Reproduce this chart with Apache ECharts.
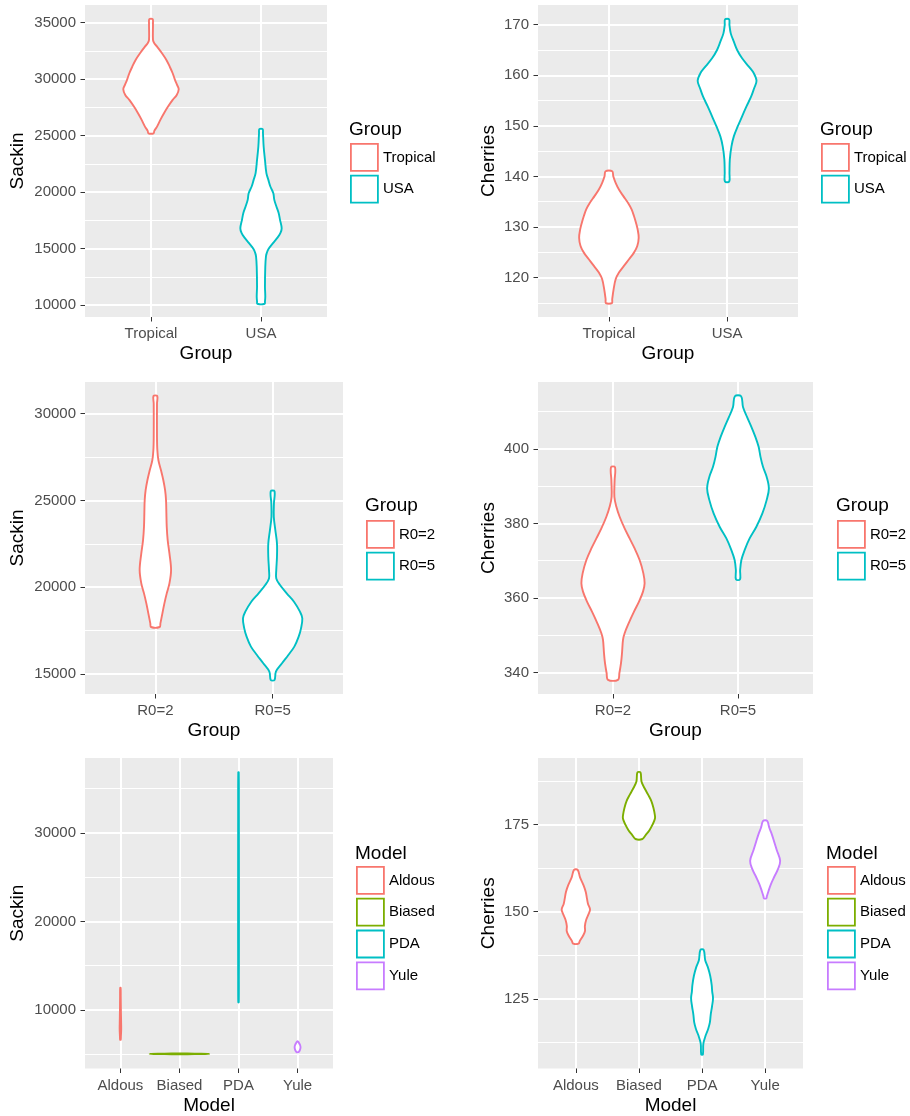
<!DOCTYPE html>
<html><head><meta charset="utf-8">
<script src="https://cdn.jsdelivr.net/npm/echarts@6/dist/echarts.min.js"></script>
<style>html,body{margin:0;padding:0;background:#fff}#c{width:910px;height:1116px}</style>
</head><body><div id="c"></div>
<script>
// ---------- categories ----------
const groupsTU = ['Tropical', 'USA'];
const groupsR0 = ['R0=2', 'R0=5'];
const models = ['Aldous', 'Biased', 'PDA', 'Yule'];

// ---------- tick labels ----------
const sackinTicks1 = [10000, 15000, 20000, 25000, 30000, 35000];
const sackinMinor1 = [12500, 17500, 22500, 27500, 32500];
const cherriesTicks1 = [120, 130, 140, 150, 160, 170];
const cherriesMinor1 = [115, 125, 135, 145, 155, 165];
const sackinTicks2 = [15000, 20000, 25000, 30000];
const sackinMinor2 = [17500, 22500, 27500];
const cherriesTicks2 = [340, 360, 380, 400];
const cherriesMinor2 = [350, 370, 390, 410];
const sackinTicks3 = [10000, 20000, 30000];
const sackinMinor3 = [5000, 15000, 25000, 35000];
const cherriesTicks3 = [125, 150, 175];
const cherriesMinor3 = [112.5, 137.5, 162.5, 187.5];

// ---------- violin profiles: [value, half width in category units] ----------
const sackinTropical = [[35300,0.015],[34940,0.018],[33470,0.018],[33170,0.030],[32880,0.055],[32290,0.100],[31700,0.140],[31110,0.170],[30520,0.197],[29930,0.218],[29490,0.237],[29100,0.252],[28600,0.234],[28160,0.197],[27570,0.155],[26980,0.118],[26390,0.085],[25800,0.055],[25420,0.030],[25210,0.024]];
const sackinUSA = [[25566,0.015],[25213,0.018],[24034,0.024],[22855,0.036],[21676,0.049],[21086,0.067],[20496,0.085],[19906,0.112],[19317,0.121],[18727,0.140],[18138,0.161],[17548,0.173],[16811,0.188],[16369,0.176],[15926,0.146],[15484,0.109],[14953,0.067],[14599,0.052],[14305,0.045],[13421,0.039],[11652,0.036],[10768,0.039],[10326,0.036],[10120,0.033]];

const cherriesTropical = [[141.03,0.028],[140.04,0.037],[138.73,0.057],[137.41,0.085],[136.10,0.122],[134.78,0.161],[133.47,0.192],[132.16,0.212],[130.84,0.229],[129.53,0.243],[127.89,0.252],[126.24,0.240],[124.93,0.212],[123.62,0.170],[122.30,0.127],[120.99,0.085],[119.67,0.057],[117.70,0.040],[115.73,0.028],[114.94,0.025]];
const cherriesUSA = [[171.05,0.017],[169.93,0.020],[168.29,0.031],[166.65,0.057],[165.01,0.085],[163.36,0.127],[161.72,0.184],[160.41,0.226],[158.90,0.249],[157.45,0.229],[155.81,0.204],[153.84,0.164],[151.87,0.127],[149.90,0.090],[147.92,0.057],[145.95,0.037],[143.33,0.023],[140.70,0.020],[138.99,0.018]];

const sackinR02 = [[31017,0.016],[30575,0.014],[28657,0.014],[27890,0.017],[27315,0.026],[26739,0.048],[26164,0.068],[25589,0.083],[25013,0.091],[24246,0.094],[23479,0.097],[22712,0.105],[21944,0.120],[20985,0.134],[20218,0.120],[19643,0.097],[19067,0.077],[18492,0.060],[17917,0.043],[17706,0.037]];
const sackinR05 = [[25531,0.016],[24821,0.011],[24054,0.010],[23287,0.023],[22520,0.037],[21753,0.037],[20985,0.031],[20506,0.031],[20122,0.063],[19643,0.120],[19163,0.182],[18588,0.233],[18204,0.253],[17629,0.242],[17150,0.222],[16574,0.185],[16095,0.134],[15615,0.080],[15136,0.028],[14656,0.016]];

const cherriesR02 = [[395.09,0.016],[391.61,0.013],[387.14,0.011],[384.46,0.027],[381.78,0.053],[378.66,0.093],[375.98,0.133],[373.30,0.173],[370.18,0.213],[366.61,0.243],[363.93,0.253],[361.70,0.240],[359.02,0.208],[356.34,0.168],[353.21,0.125],[350.54,0.093],[348.75,0.080],[345.18,0.072],[342.50,0.064],[339.82,0.051],[338.04,0.040]];
const cherriesR05 = [[414.11,0.025],[411.25,0.040],[408.57,0.072],[405.89,0.107],[403.21,0.139],[400.54,0.165],[397.86,0.180],[395.18,0.200],[392.50,0.229],[389.37,0.247],[386.25,0.229],[382.68,0.195],[379.11,0.147],[375.98,0.093],[372.86,0.053],[370.18,0.027],[367.50,0.017],[365.00,0.016]];

const sackinAldous = [[12506,0.004],[11500,0.006],[10000,0.008],[8500,0.012],[7800,0.013],[7000,0.008],[6637,0.005]];
const sackinBiased = [[5085,0.02],[5060,0.25],[5035,0.505],[5010,0.25],[4985,0.02]];
const sackinPDA = [[36841,0.004],[32430,0.006],[24954,0.007],[17478,0.007],[13740,0.006],[10862,0.004]];
const sackinYule = [[6450,0.006],[6264,0.025],[6040,0.042],[5778,0.050],[5516,0.042],[5292,0.025],[5220,0.010]];

const cherriesAldous = [[162.0,0.029],[159.82,0.066],[157.45,0.124],[155.55,0.158],[153.65,0.177],[152.23,0.193],[150.62,0.225],[149.38,0.203],[147.67,0.164],[145.87,0.143],[144.45,0.145],[143.03,0.111],[141.60,0.063],[140.84,0.042]];
const cherriesBiased = [[189.90,0.024],[187.33,0.040],[185.44,0.087],[183.54,0.145],[181.64,0.198],[179.74,0.230],[177.85,0.251],[176.71,0.254],[175.0,0.217],[173.29,0.164],[171.96,0.106],[170.83,0.055]];
const cherriesPDA = [[139.04,0.026],[136.10,0.050],[134.11,0.092],[131.64,0.129],[128.98,0.153],[127.09,0.161],[125.19,0.174],[122.82,0.158],[120.45,0.137],[118.26,0.124],[116.46,0.098],[114.56,0.058],[112.19,0.021],[109.06,0.013]];
const cherriesYule = [[176.04,0.032],[174.05,0.066],[172.15,0.106],[170.07,0.143],[167.60,0.185],[164.56,0.238],[162.19,0.203],[160.01,0.145],[157.92,0.092],[156.02,0.055],[154.32,0.026],[153.84,0.021]];

// ---------- styling ----------
const hue2 = ['#F8766D', '#00BFC4'];
const hue4 = ['#F8766D', '#7CAE00', '#00BFC4', '#C77CFF'];
const FONT = '"Liberation Sans", Arial, Helvetica, sans-serif';

const panels = [
  {box:[85,5,242,312], cats:groupsTU, colors:hue2, violins:[sackinTropical,sackinUSA], yRange:[8950,36560], major:sackinTicks1, minor:sackinMinor1, yName:'Sackin', xName:'Group', yGap:58, leg:[350,143], ttl:[349,120]},
  {box:[538,5,260,312], cats:groupsTU, colors:hue2, violins:[cherriesTropical,cherriesUSA], yRange:[112.2,173.9], major:cherriesTicks1, minor:cherriesMinor1, yName:'Cherries', xName:'Group', yGap:40, leg:[821,143], ttl:[820,120]},
  {box:[85,382,258,312], cats:groupsR0, colors:hue2, violins:[sackinR02,sackinR05], yRange:[13845,31825], major:sackinTicks2, minor:sackinMinor2, yName:'Sackin', xName:'Group', yGap:58, leg:[366,520], ttl:[365,496]},
  {box:[538,382,275,312], cats:groupsR0, colors:hue2, violins:[cherriesR02,cherriesR05], yRange:[334.25,417.93], major:cherriesTicks2, minor:cherriesMinor2, yName:'Cherries', xName:'Group', yGap:40, leg:[837,520], ttl:[836,496]},
  {box:[85,758,248,313], cats:models, colors:hue4, violins:[sackinAldous,sackinBiased,sackinPDA,sackinYule], yRange:[3385,38460], major:sackinTicks3, minor:sackinMinor3, yName:'Sackin', xName:'Model', yGap:58, leg:[356,866], ttl:[355,844]},
  {box:[538,758,265,313], cats:models, colors:hue4, violins:[cherriesAldous,cherriesBiased,cherriesPDA,cherriesYule], yRange:[105.05,194.05], major:cherriesTicks3, minor:cherriesMinor3, yName:'Cherries', xName:'Model', yGap:40, leg:[827,866], ttl:[826,844]}
];

function violinRenderer(prof, color) {
  return function (params, api) {
    const cx = api.value(0);
    const left = prof.map(d => api.coord([cx - d[1], d[0]]));
    const right = prof.map(d => api.coord([cx + d[1], d[0]])).reverse();
    return {
      type: 'polygon',
      shape: { points: left.concat(right), smooth: 0.35 },
      style: { fill: '#ffffff', stroke: color, lineWidth: 1.9 }
    };
  };
}

const option = {
  animation: false,
  backgroundColor: '#ffffff',
  textStyle: { fontFamily: FONT },
  title: panels.map(p => ({
    text: p.xName, left: p.ttl[0], top: p.ttl[1], padding: 0,
    textStyle: { fontSize: 19, fontWeight: 'normal', color: '#000', fontFamily: FONT }
  })),
  legend: panels.map(p => ({
    orient: 'vertical', left: p.leg[0], top: p.leg[1], padding: 0,
    itemWidth: 27, itemHeight: 27, itemGap: 3, icon: 'rect', selectedMode: false,
    textStyle: { fontSize: 15, color: '#000', fontFamily: FONT },
    data: p.cats.map((c, k) => ({ name: c, itemStyle: { color: '#ffffff', borderColor: p.colors[k], borderWidth: 1.8 } }))
  })),
  grid: panels.map(p => ({
    left: p.box[0], top: p.box[1], width: p.box[2], height: p.box[3],
    show: true, backgroundColor: '#EBEBEB', borderWidth: 0
  })),
  xAxis: panels.map((p, i) => {
    const ticks = p.cats.map((c, k) => k + 1);
    return {
      type: 'value', gridIndex: i, min: 0.4, max: p.cats.length + 0.6,
      name: p.xName, nameLocation: 'middle', nameGap: 27.5,
      nameTextStyle: { fontSize: 19, color: '#000', fontFamily: FONT },
      axisLine: { show: false },
      axisTick: { show: true, customValues: ticks, length: 4.5, lineStyle: { color: '#333333', width: 1 } },
      axisLabel: { customValues: ticks, formatter: v => p.cats[Math.round(v) - 1] || '', fontSize: 15, color: '#4D4D4D', margin: 9.5, fontFamily: FONT },
      splitLine: { show: true, lineStyle: { color: '#ffffff', width: 2 } }
    };
  }),
  yAxis: panels.flatMap((p, i) => [
    {
      type: 'value', gridIndex: i, min: p.yRange[0], max: p.yRange[1], position: 'left',
      name: p.yName, nameLocation: 'middle', nameGap: p.yGap,
      nameTextStyle: { fontSize: 19, color: '#000', fontFamily: FONT },
      axisLine: { show: false },
      axisTick: { show: true, customValues: p.major, length: 4.5, lineStyle: { color: '#333333', width: 1 } },
      axisLabel: { customValues: p.major, formatter: v => String(v), fontSize: 15, color: '#4D4D4D', margin: 9, fontFamily: FONT },
      splitLine: { show: true, lineStyle: { color: '#ffffff', width: 2 } }
    },
    {
      type: 'value', gridIndex: i, min: p.yRange[0], max: p.yRange[1], position: 'left',
      axisLine: { show: false },
      axisTick: { show: false, customValues: p.minor },
      axisLabel: { show: false },
      splitLine: { show: true, lineStyle: { color: '#ffffff', width: 1 } }
    }
  ]),
  series: panels.flatMap((p, i) => p.violins.map((prof, k) => ({
    type: 'custom', name: p.cats[k], xAxisIndex: i, yAxisIndex: 2 * i,
    data: [[k + 1, prof[0][0]]],
    itemStyle: { color: p.colors[k] },
    renderItem: violinRenderer(prof, p.colors[k]),
    silent: true, z: 5
  })))
};

const chart = echarts.init(document.getElementById('c'), null, { renderer: 'canvas' });
chart.setOption(option);
</script>
</body></html>
